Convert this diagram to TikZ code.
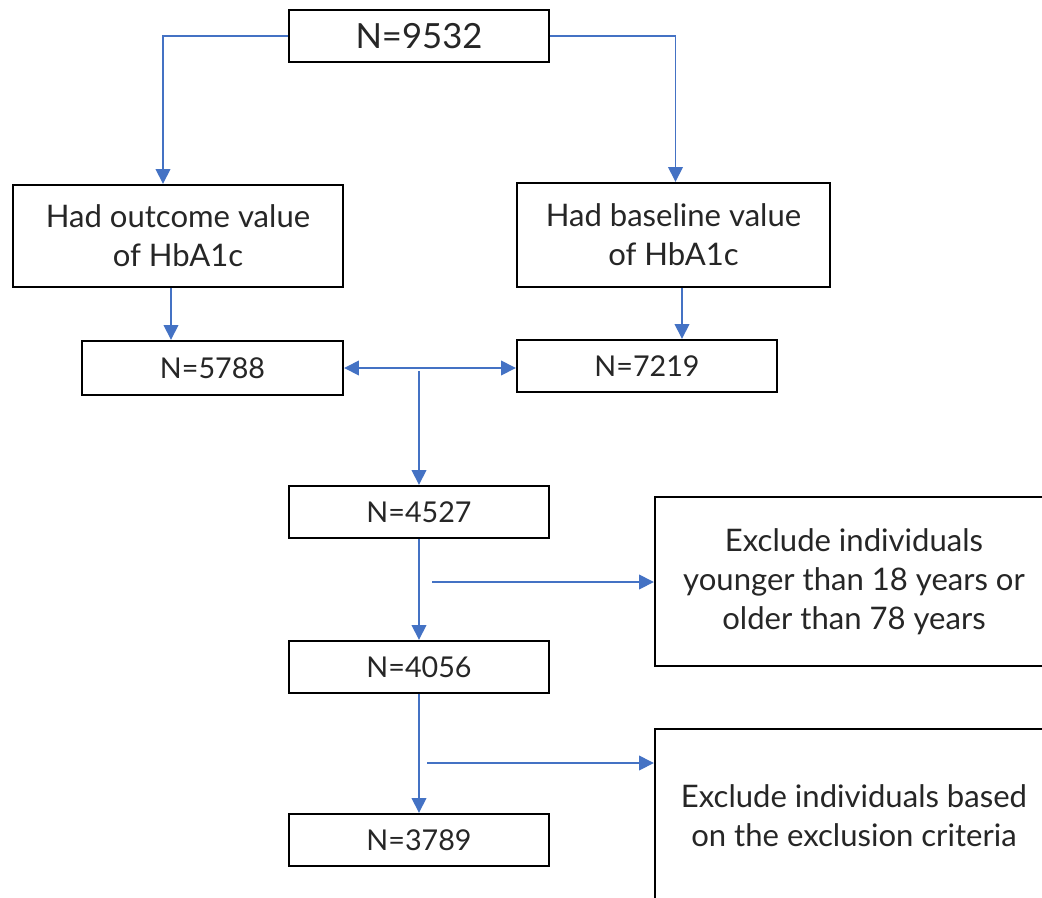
\documentclass[tikz,border=0pt]{standalone}
\usepackage{fontspec}
\setmainfont{Lato}
\usetikzlibrary{arrows.meta,calc}
\definecolor{lineblue}{HTML}{4472C4}
\definecolor{txtgray}{HTML}{262626}
\tikzset{
  box/.style={draw=black, line width=1.8pt, inner sep=0pt, align=center, text=txtgray,
    font=\fontsize{21.5}{29}\selectfont},
  multi/.style={font=\fontsize{23.3}{29.2}\selectfont},
  conn/.style={draw=lineblue, line width=1.1pt, -{Triangle[width=11pt,length=11pt]}},
  dconn/.style={draw=lineblue, line width=1.1pt, {Triangle[width=11pt,length=11pt]}-{Triangle[width=11pt,length=11pt]}},
}
\begin{document}
\begin{tikzpicture}[x=0.75pt,y=-0.75pt]
\clip (0,0) rectangle (1042,897);
\useasboundingbox (0,0) rectangle (1042,897);
\fill[white] (0,0) rectangle (1042,897);
\node[box, minimum width=260*0.75pt, minimum height=52*0.75pt, font=\fontsize{26}{32}\selectfont] (n9532) at (419,36) {N=9532};
\node[box, multi, minimum width=330*0.75pt, minimum height=102*0.75pt] (outc) at (178,236) {Had outcome value\\of HbA1c};
\node[box, multi, minimum width=313*0.75pt, minimum height=104*0.75pt] (base) at (673.5,235) {Had baseline value\\of HbA1c};
\node[box, minimum width=261*0.75pt, minimum height=54*0.75pt] (n5788) at (212.5,368) {N=5788};
\node[box, minimum width=260*0.75pt, minimum height=52*0.75pt] (n7219) at (647,366) {N=7219};
\node[box, minimum width=260*0.75pt, minimum height=52*0.75pt] (n4527) at (419,512) {N=4527};
\node[box, multi, minimum width=398*0.75pt, minimum height=169*0.75pt] (excl1) at (854,581.5) {Exclude individuals\\younger than 18 years or\\older than 78 years};
\node[box, minimum width=260*0.75pt, minimum height=52*0.75pt] (n4056) at (419,667) {N=4056};
\node[box, multi, minimum width=398*0.75pt, minimum height=174*0.75pt] (excl2) at (854,816) {Exclude individuals based\\on the exclusion criteria};
\node[box, minimum width=260*0.75pt, minimum height=52*0.75pt] (n3789) at (419,840) {N=3789};
% connectors
\draw[conn] (n9532.west) -| ($(outc.north)+(-15,0)$);
\draw[conn] (n9532.east) -| ($(base.north)+(2,0)$);
\coordinate (oa) at ($(outc.south)+(-7,0)$);
\draw[conn] (oa) -- (oa |- n5788.north);
\coordinate (ba) at ($(base.south)+(8.5,0)$);
\draw[conn] (ba) -- (ba |- n7219.north);
\draw[dconn] (n5788.east) -- (n5788.east -| n7219.west);
\coordinate (j1) at (419,371);
\draw[conn] (j1) -- (n4527.north);
\draw[conn] (n4527.south) -- (n4056.north);
\coordinate (b1) at (432,582);
\draw[conn] (b1) -- (b1 -| excl1.west);
\draw[conn] (n4056.south) -- (n3789.north);
\coordinate (b2) at (427,763);
\draw[conn] (b2) -- (b2 -| excl2.west);
\end{tikzpicture}
\end{document}
